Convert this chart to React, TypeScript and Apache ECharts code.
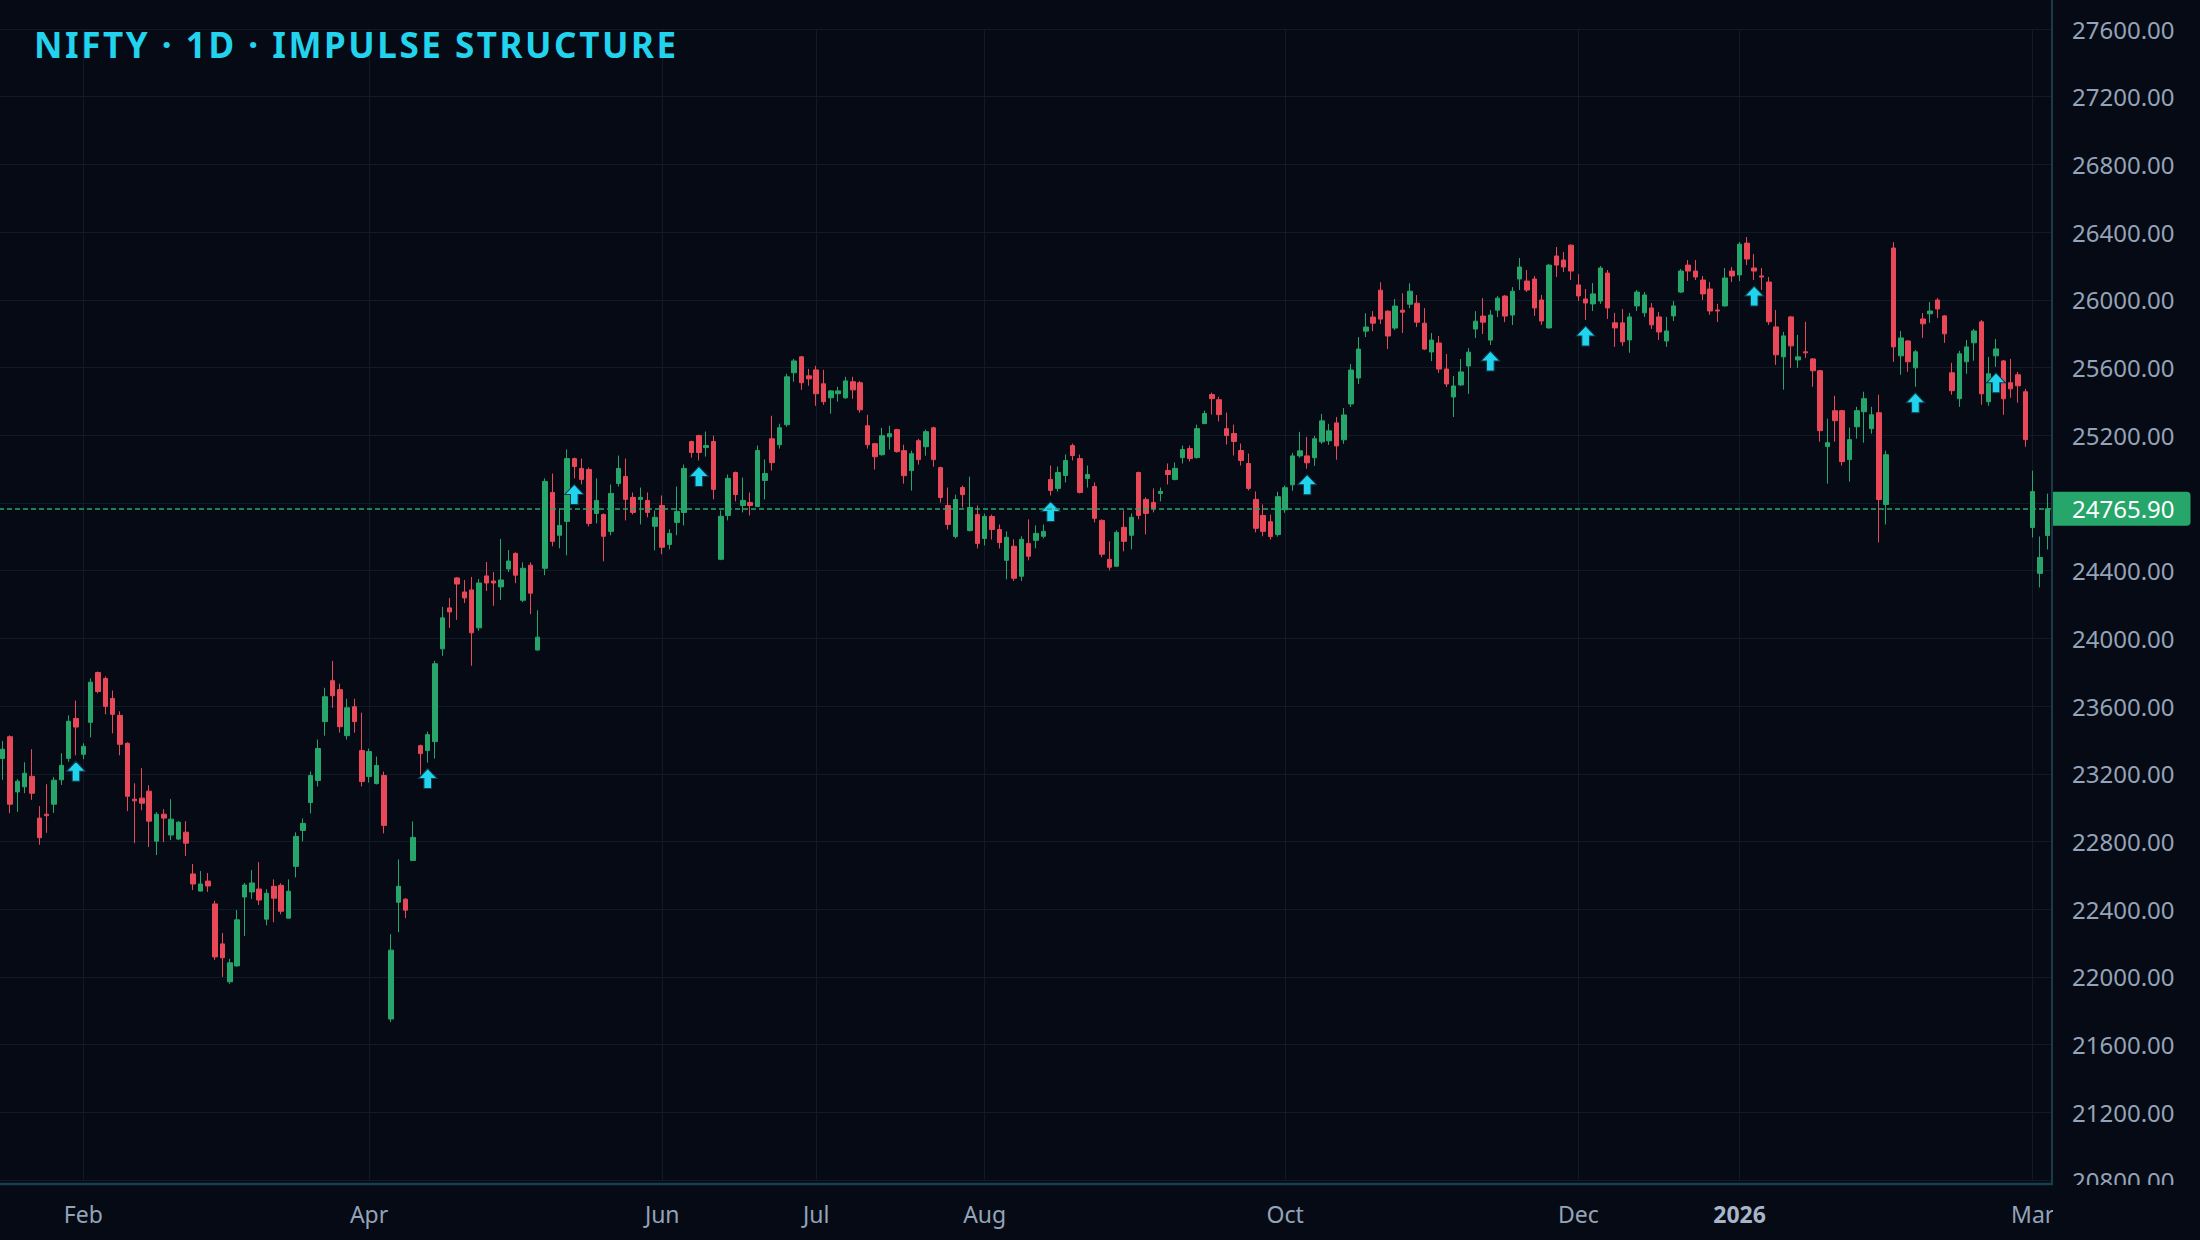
import React, { useEffect, useRef } from "react";
import * as echarts from "echarts";

// ---------- DATA ----------
const TITLE = "NIFTY · 1D · IMPULSE STRUCTURE";

const OPEN = [
  23290, 23419, 23093, 23123, 23185, 22938, 22961, 23020, 23164, 23291,
  23527, 23315, 23504, 23798, 23763, 23645, 23545, 23380, 23050, 23056,
  23097, 22802, 22961, 22838, 22814, 22855, 22608, 22507, 22566, 22431,
  22195, 21971, 22065, 22472, 22502, 22519, 22341, 22535, 22541, 22347,
  22653, 22865, 23030, 23160, 23508, 23750, 23697, 23425, 23596, 23337,
  23184, 23142, 23190, 21751, 22441, 22459, 22688, 23366, 23337, 23390,
  23938, 24180, 24357, 24274, 24286, 24062, 24369, 24339, 24304, 24410,
  24502, 24225, 24432, 23931, 24414, 24862, 24609, 24691, 25062, 25004,
  24998, 24738, 24732, 24632, 24915, 24956, 24833, 24821, 24815, 24662,
  24785, 24555, 24685, 24744, 25163, 25198, 25127, 25163, 24467, 24726,
  24980, 24785, 24803, 24779, 24933, 25179, 25144, 25262, 25569, 25663,
  25551, 25586, 25504, 25421, 25445, 25421, 25516, 25510, 25256, 25150,
  25085, 25191, 25233, 25109, 24991, 25168, 25132, 25244, 25009, 24785,
  24602, 24891, 24637, 24731, 24590, 24720, 24643, 24461, 24544, 24367,
  24561, 24579, 24603, 24939, 24886, 24962, 25139, 25062, 24945, 24897,
  24697, 24467, 24426, 24656, 24609, 24980, 24821, 24803, 24856, 24992,
  24939, 25068, 25121, 25068, 25269, 25440, 25410, 25239, 25210, 25110,
  25033, 24821, 24726, 24689, 24613, 24760, 24907, 25078, 25078, 25067,
  25161, 25167, 25273, 25173, 25385, 25538, 25815, 25898, 26057, 25933,
  25833, 25939, 25974, 25980, 25862, 25692, 25745, 25591, 25426, 25497,
  25609, 25827, 25904, 25762, 25939, 26022, 25910, 26123, 26111, 26123,
  25999, 25834, 26259, 26235, 26323, 26088, 26005, 25976, 25993, 26158,
  25864, 25864, 25763, 25964, 25923, 25952, 25899, 25757, 25905, 26046,
  26205, 26170, 26117, 26064, 25940, 25964, 26170, 26147, 26335, 26188,
  26141, 26105, 25840, 25663, 25899, 25645, 25693, 25651, 25581, 25133,
  25345, 25345, 25056, 25250, 25339, 25239, 25333, 24791, 26306, 25669,
  25757, 25598, 25887, 25917, 25999, 25905, 25569, 25416, 25634, 25746,
  25870, 25398, 25669, 25639, 25510, 25557, 25457, 24655, 24384, 24608,
];

const HIGH = [
  23394, 23427, 23168, 23268, 23345, 23009, 23138, 23180, 23321, 23545,
  23633, 23380, 23763, 23804, 23775, 23692, 23569, 23386, 23144, 23233,
  23132, 22973, 22991, 23050, 22920, 22920, 22667, 22625, 22614, 22449,
  22260, 22107, 22395, 22555, 22631, 22678, 22518, 22576, 22553, 22576,
  22854, 22936, 23213, 23402, 23708, 23867, 23732, 23643, 23643, 23561,
  23349, 23302, 23213, 22252, 22694, 22465, 22918, 23372, 23449, 23867,
  24186, 24239, 24362, 24345, 24363, 24351, 24451, 24392, 24587, 24522,
  24508, 24449, 24449, 24166, 24945, 24974, 24768, 25116, 25068, 25062,
  25009, 24945, 24738, 24909, 25080, 25062, 24862, 24891, 24862, 24756,
  24844, 24644, 24897, 25027, 25168, 25203, 25222, 25198, 24756, 24968,
  24985, 24950, 24862, 25139, 25057, 25315, 25268, 25563, 25651, 25669,
  25592, 25610, 25586, 25468, 25486, 25545, 25545, 25521, 25321, 25155,
  25244, 25256, 25238, 25144, 25109, 25179, 25233, 25250, 25014, 24891,
  24849, 24902, 24955, 24785, 24737, 24731, 24673, 24632, 24585, 24603,
  24703, 24667, 24673, 25021, 25015, 25086, 25151, 25086, 25021, 24921,
  24703, 24573, 24638, 24756, 24738, 24985, 24833, 24886, 24891, 25033,
  25039, 25139, 25139, 25263, 25345, 25452, 25428, 25334, 25263, 25151,
  25092, 24868, 24791, 24731, 24866, 24902, 25096, 25220, 25190, 25196,
  25326, 25267, 25308, 25361, 25621, 25780, 25921, 25933, 26104, 25939,
  26004, 26039, 26098, 26028, 25951, 25804, 25786, 25680, 25550, 25650,
  25715, 25933, 26010, 25939, 26022, 26028, 26075, 26247, 26176, 26141,
  26029, 26211, 26312, 26282, 26328, 26152, 26064, 26099, 26200, 26176,
  25923, 25946, 25923, 26058, 26046, 25981, 25928, 25899, 25993, 26182,
  26235, 26235, 26141, 26105, 25976, 26188, 26194, 26341, 26371, 26270,
  26188, 26135, 25940, 25811, 25905, 25793, 25870, 25656, 25586, 25298,
  25433, 25350, 25245, 25368, 25457, 25368, 25439, 25109, 26341, 25816,
  25762, 25704, 25922, 25987, 26011, 25910, 25628, 25699, 25763, 25828,
  25881, 25663, 25769, 25645, 25651, 25574, 25474, 24991, 24602, 24855,
];

const LOW = [
  23164, 22967, 22975, 23085, 23046, 22781, 22851, 22969, 23134, 23270,
  23309, 23286, 23415, 23675, 23551, 23439, 23309, 22979, 22790, 22985,
  22767, 22720, 22796, 22808, 22808, 22714, 22513, 22505, 22502, 22101,
  22000, 21959, 22060, 22242, 22460, 22425, 22305, 22323, 22370, 22345,
  22588, 22800, 22966, 23125, 23425, 23590, 23443, 23402, 23443, 23125,
  23148, 23137, 22848, 21733, 22264, 22347, 22686, 23195, 23266, 23290,
  23897, 24062, 24109, 24209, 23838, 24044, 24280, 24192, 24227, 24392,
  24326, 24214, 24143, 23928, 24373, 24544, 24532, 24491, 24945, 24909,
  24662, 24679, 24455, 24609, 24897, 24697, 24732, 24673, 24715, 24520,
  24497, 24526, 24609, 24667, 25068, 25051, 25074, 24821, 24462, 24697,
  24809, 24744, 24726, 24775, 24821, 24991, 25121, 25250, 25516, 25468,
  25492, 25374, 25380, 25327, 25398, 25415, 25415, 25333, 25121, 24997,
  25079, 25115, 25097, 24914, 24873, 25026, 25079, 25014, 24802, 24643,
  24590, 24773, 24631, 24531, 24549, 24584, 24531, 24349, 24339, 24339,
  24461, 24532, 24591, 24844, 24868, 24921, 25051, 24856, 24891, 24685,
  24479, 24402, 24422, 24514, 24526, 24703, 24614, 24744, 24809, 24909,
  24933, 25033, 25045, 25062, 25265, 25322, 25281, 25145, 25080, 25021,
  24874, 24626, 24603, 24583, 24601, 24742, 24872, 25067, 25002, 25019,
  25149, 25143, 25055, 25149, 25367, 25503, 25780, 25815, 25857, 25709,
  25821, 25804, 25951, 25839, 25703, 25638, 25568, 25485, 25308, 25492,
  25444, 25774, 25798, 25733, 25898, 25868, 25851, 26058, 26046, 25905,
  25852, 25830, 26135, 26164, 26117, 25993, 25881, 25934, 25976, 25887,
  25722, 25728, 25687, 25934, 25899, 25828, 25763, 25722, 25875, 26040,
  26111, 26117, 25999, 25911, 25869, 25960, 26105, 26111, 26205, 26117,
  26058, 25852, 25616, 25469, 25598, 25598, 25657, 25486, 25162, 24914,
  25162, 25021, 24926, 25180, 25156, 25209, 24567, 24673, 25634, 25557,
  25575, 25486, 25775, 25864, 25893, 25746, 25439, 25368, 25563, 25640,
  25380, 25374, 25604, 25321, 25421, 25392, 25132, 24596, 24301, 24525,
];

const CLOSE = [
  23345, 23020, 23156, 23203, 23085, 22822, 22952, 23162, 23250, 23510,
  23476, 23362, 23741, 23686, 23598, 23551, 23374, 23067, 23040, 23026,
  22920, 22961, 22938, 22932, 22914, 22790, 22549, 22549, 22537, 22118,
  22113, 22083, 22337, 22543, 22555, 22454, 22494, 22465, 22388, 22506,
  22830, 22907, 23190, 23349, 23655, 23661, 23478, 23590, 23508, 23154,
  23331, 23249, 22895, 22158, 22535, 22394, 22824, 23319, 23431, 23850,
  24121, 24156, 24321, 24239, 24033, 24327, 24327, 24327, 24345, 24457,
  24373, 24414, 24267, 24007, 24927, 24573, 24667, 25062, 25015, 24939,
  24679, 24815, 24603, 24856, 25004, 24821, 24744, 24833, 24744, 24715,
  24538, 24620, 24750, 25004, 25098, 25098, 25139, 24880, 24721, 24945,
  24850, 24815, 24785, 25110, 24974, 25038, 25244, 25545, 25639, 25510,
  25533, 25445, 25398, 25462, 25462, 25521, 25468, 25350, 25144, 25073,
  25197, 25209, 25103, 24961, 25091, 25056, 25221, 25056, 24832, 24673,
  24820, 24849, 24773, 24561, 24720, 24643, 24566, 24597, 24355, 24585,
  24485, 24620, 24632, 24874, 24980, 25051, 25080, 24862, 24968, 24709,
  24497, 24420, 24626, 24573, 24715, 24726, 24738, 24768, 24868, 24968,
  25004, 25116, 25062, 25239, 25328, 25416, 25322, 25198, 25163, 25051,
  24886, 24650, 24632, 24601, 24837, 24890, 25078, 25108, 25037, 25179,
  25285, 25226, 25137, 25320, 25585, 25709, 25839, 25862, 25886, 25786,
  25963, 25927, 26051, 25868, 25709, 25762, 25591, 25503, 25491, 25574,
  25691, 25874, 25868, 25910, 26010, 25904, 26051, 26194, 26058, 25952,
  25875, 26205, 26205, 26194, 26170, 26023, 25981, 26035, 26188, 25952,
  25834, 25752, 25899, 26046, 26029, 25852, 25810, 25816, 25964, 26170,
  26170, 26135, 26035, 25934, 25934, 26129, 26141, 26329, 26241, 26170,
  26135, 25870, 25675, 25787, 25728, 25663, 25687, 25581, 25227, 25156,
  25286, 25044, 25174, 25345, 25416, 25321, 24820, 25085, 25722, 25775,
  25634, 25693, 25858, 25934, 25946, 25799, 25463, 25681, 25722, 25816,
  25445, 25563, 25710, 25415, 25474, 25492, 25174, 24867, 24478, 24765.9,
];

// bars that carry an "impulse" arrow below them
const IMPULSE_BARS = [10, 58, 78, 95, 143, 178, 203, 216, 239, 261, 272];

// trading calendar
const START_DATE = "2025-01-17";
const HOLIDAYS = [
  "2025-02-26", "2025-03-14", "2025-04-10", "2025-04-14", "2025-04-18",
  "2025-05-01", "2025-08-15", "2025-08-27", "2025-10-02", "2025-10-22",
  "2025-11-05", "2025-12-25", "2026-01-15", "2026-01-26", "2026-03-03",
];
// time-axis labels (first trading day of these months)
const LABEL_DATES = [
  "2025-02-03", "2025-04-01", "2025-06-02", "2025-07-01", "2025-08-01",
  "2025-10-01", "2025-12-01", "2026-01-01", "2026-03-02",
];
const MONTH_NAMES = ["Jan", "Feb", "Mar", "Apr", "May", "Jun", "Jul", "Aug", "Sep", "Oct", "Nov", "Dec"];

const Y_MIN = 20800;
const Y_MAX = 27600;
const Y_STEP = 400;

// ---------- STYLE ----------
const BG = "#060a14";
const GREEN = "#26a66a";
const RED = "#e84858";
const CYAN = "#22d3ee";
const GRID_LINE = "#0f1b27";
const AXIS_TEXT = "#94a3b8";
const FONT = '"Noto Sans", sans-serif';
const ARROW = "path://M10,0 L20,10 L14,10 L14,20 L6,20 L6,10 L0,10 Z";

function tradingDays(start: string, count: number, holidays: string[]): string[] {
  const out: string[] = [];
  const skip = new Set(holidays);
  let t = Date.parse(start + "T00:00:00Z");
  while (out.length < count) {
    const d = new Date(t);
    const dow = d.getUTCDay();
    const iso = d.toISOString().slice(0, 10);
    if (dow !== 0 && dow !== 6 && !skip.has(iso)) out.push(iso);
    t += 86400000;
  }
  return out;
}

const DATES = tradingDays(START_DATE, OPEN.length, HOLIDAYS);

export default function App() {
  const ref = useRef<HTMLDivElement>(null);

  useEffect(() => {
    document.body.style.margin = "0";
    document.body.style.background = BG;
    const chart = echarts.init(ref.current as HTMLDivElement, null, { renderer: "svg" });

    const candles = OPEN.map((o, i) => [o, CLOSE[i], LOW[i], HIGH[i]]);
    const last = CLOSE[CLOSE.length - 1];
    const labelSet = new Set(LABEL_DATES);
    const isLabel = (i: number) => labelSet.has(DATES[i]);

    chart.setOption({
      animation: false,
      backgroundColor: BG,
      textStyle: { fontFamily: FONT },
      grid: { left: -1, right: 149, top: 29, bottom: 60, outerBoundsMode: "none" },
      xAxis: {
        type: "category",
        data: DATES,
        boundaryGap: true,
        axisLine: { show: false },
        axisTick: { show: false },
        axisLabel: {
          interval: (i: number) => isLabel(i),
          color: AXIS_TEXT,
          fontSize: 23,
          fontFamily: FONT,
          margin: 22,
          formatter: (v: string) => {
            const m = Number(v.slice(5, 7));
            return m === 1 ? "{yr|" + v.slice(0, 4) + "}" : MONTH_NAMES[m - 1];
          },
          rich: { yr: { fontWeight: "bold", color: "#a8b5c8", fontSize: 23, fontFamily: FONT } },
        },
        splitLine: {
          show: true,
          interval: (i: number) => isLabel(i),
          alignWithLabel: true,
          lineStyle: { color: GRID_LINE, width: 1 },
        },
      },
      yAxis: {
        type: "value",
        position: "right",
        min: Y_MIN,
        max: Y_MAX,
        interval: Y_STEP,
        axisLine: { show: false },
        axisTick: { show: false },
        axisLabel: {
          color: AXIS_TEXT,
          fontSize: 24,
          fontFamily: FONT,
          margin: 21,
          // the tick label hidden behind the last-price tag is not drawn
          formatter: (v: number) => (Math.abs(v - last) < 150 ? "" : v.toFixed(2)),
        },
        splitLine: { show: true, lineStyle: { color: GRID_LINE, width: 1 } },
      },
      series: [
        {
          type: "candlestick",
          data: candles,
          barWidth: 5,
          clip: false,
          itemStyle: {
            color: GREEN,
            color0: RED,
            borderColor: GREEN,
            borderColor0: RED,
            borderWidth: 1,
          },
          markLine: {
            silent: true,
            symbol: ["none", "none"],
            lineStyle: { color: GREEN, type: [5, 3], width: 1.5 },
            label: {
              show: true,
              position: "end",
              distance: 0,
              formatter: () => last.toFixed(2),
              color: "#ffffff",
              fontSize: 24,
              fontFamily: FONT,
              backgroundColor: GREEN,
              padding: [5, 16, 5, 21],
              borderRadius: [0, 4, 4, 0],
            },
            data: [{ yAxis: last }],
          },
        },
        {
          type: "scatter",
          data: IMPULSE_BARS.map((i) => [i, LOW[i]]),
          symbol: ARROW,
          symbolSize: [19, 20],
          symbolOffset: [0, 16],
          z: 4,
          itemStyle: { color: CYAN, borderColor: "#0b3a4c", borderWidth: 1, opacity: 1 },
        },
      ],
      graphic: [
        {
          type: "line",
          z: 50,
          shape: { x1: 2052, y1: 0, x2: 2052, y2: 1184 },
          style: { stroke: "#1b3a48", lineWidth: 2 },
        },
        {
          type: "rect",
          z: 60,
          shape: { x: 2053, y: 1185, width: 147, height: 55 },
          style: { fill: BG },
        },
        {
          type: "line",
          z: 70,
          shape: { x1: 0, y1: 1184, x2: 2053, y2: 1184 },
          style: { stroke: "#17404f", lineWidth: 2.5 },
        },
        {
          type: "text",
          z: 80,
          x: 34,
          y: 44,
          style: {
            text: TITLE,
            fill: CYAN,
            fontSize: 35,
            fontWeight: "bold",
            fontFamily: FONT,
            verticalAlign: "middle",
          },
        },
      ],
    });

    return () => chart.dispose();
  }, []);

  return (
    <>
      <style>{`text[fill="${CYAN}"]{letter-spacing:2.55px;}`}</style>
      <div ref={ref} style={{ width: 2200, height: 1240 }} />
    </>
  );
}
